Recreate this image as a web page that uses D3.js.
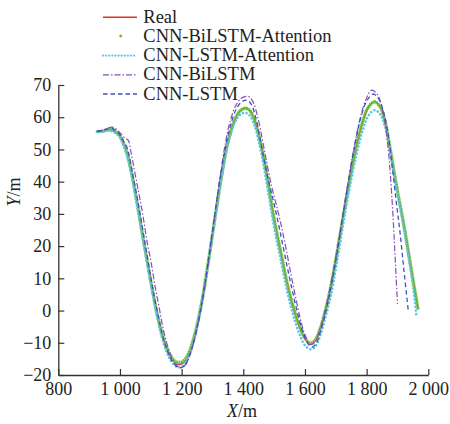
<!DOCTYPE html>
<html>
<head>
<meta charset="utf-8">
<script src="https://cdn.jsdelivr.net/npm/d3@7"></script>
<style>
  body { margin: 0; background: #fff; }
  text { font-family: "Liberation Serif", "Times New Roman", serif; fill: #222; }
</style>
</head>
<body>
<script>
// series names, in legend order
var seriesNames = ["Real", "CNN-BiLSTM-Attention", "CNN-LSTM-Attention", "CNN-BiLSTM", "CNN-LSTM"];

var xTicks = [800, 1000, 1200, 1400, 1600, 1800, 2000];
var yTicks = [-20, -10, 0, 10, 20, 30, 40, 50, 60, 70];

// [X, Y]
var real = [[925,55.5],[945,55.7],[960,56.1],[975,56],[990,55.2],[1000,54.2],[1010,52.3],[1022,49.2],[1035,44],[1048,37.5],[1060,31],[1075,22.5],[1090,14.5],[1105,6.5],[1120,-0.8],[1135,-7],[1150,-11.5],[1165,-14.6],[1180,-16.3],[1195,-16.7],[1210,-15.8],[1225,-13],[1240,-8.5],[1255,-2.5],[1270,5],[1285,14],[1300,23.5],[1315,33],[1330,42],[1345,50],[1360,55.8],[1375,59.8],[1390,62],[1405,62.8],[1420,62.2],[1435,59.5],[1450,54.5],[1465,48],[1480,40],[1495,31],[1510,23.5],[1525,16.5],[1540,9.5],[1555,3.5],[1570,-1.5],[1585,-5.8],[1600,-8.8],[1616,-10.4],[1632,-9.5],[1650,-5.5],[1665,-0.5],[1680,5.5],[1700,15.7],[1720,27],[1742,38.9],[1763,49.3],[1784,57.6],[1805,63],[1826,64.8],[1845,63],[1860,58.5],[1875,51],[1890,42.5],[1905,34.5],[1920,27],[1935,18.5],[1950,9.8],[1967,0.3]];

var bilstmAtt = [[925,55.5],[945,55.7],[960,56.1],[975,56],[990,55.2],[1000,54.2],[1010,52.3],[1022,49.2],[1035,44],[1048,37.5],[1060,31],[1075,22.5],[1090,14.5],[1105,6.5],[1120,-0.8],[1135,-6.8],[1150,-11.2],[1165,-14.2],[1180,-15.8],[1195,-16.1],[1210,-15.3],[1225,-12.7],[1240,-8.3],[1255,-2.3],[1270,5.2],[1285,14.2],[1300,23.6],[1315,33],[1330,42],[1345,50],[1360,55.8],[1375,59.8],[1390,62],[1405,62.8],[1420,62.2],[1435,59.5],[1450,54.5],[1465,48],[1480,40],[1495,31],[1510,23.5],[1525,16.5],[1540,9.5],[1555,3.5],[1570,-1.3],[1585,-5.5],[1600,-8.5],[1616,-10.1],[1632,-9.3],[1650,-5.4],[1665,-0.4],[1680,5.6],[1700,15.8],[1720,27],[1742,38.9],[1763,49.3],[1784,57.6],[1805,63],[1826,64.8],[1845,63],[1860,58.5],[1875,51],[1890,42.5],[1905,34.5],[1920,27],[1935,18.5],[1950,9.8],[1967,0.3]];

var lstmAtt = [[925,55.5],[945,55.6],[960,55.9],[975,55.6],[990,54.7],[1000,53.6],[1010,51.5],[1022,48.2],[1035,43],[1048,36.5],[1060,30],[1075,21.5],[1090,13.5],[1105,5.5],[1120,-1.8],[1135,-8],[1150,-12.5],[1165,-15.6],[1180,-17.2],[1193,-17.6],[1208,-16.8],[1225,-13.8],[1240,-9.2],[1255,-3],[1270,4.5],[1285,13.5],[1300,23],[1315,32.5],[1330,41.5],[1345,49.3],[1360,55],[1375,58.8],[1390,60.8],[1405,61.4],[1420,60.6],[1435,57.8],[1450,52.5],[1465,45.5],[1480,37],[1495,28.5],[1510,21],[1525,14],[1540,7],[1555,1],[1570,-4],[1585,-8],[1600,-10.8],[1618,-12],[1635,-11],[1652,-7],[1668,-1.5],[1684,4.5],[1703,14.5],[1722,25.5],[1744,37.5],[1765,47.5],[1786,55.5],[1806,60.5],[1826,62.2],[1845,60.8],[1860,57],[1875,50],[1890,41.8],[1905,34],[1920,25.8],[1935,17],[1950,7.8],[1962,-2.1]];

var bilstm = [[925,55.6],[945,56],[960,56.6],[975,56.9],[990,56.2],[1002,55],[1015,53.6],[1027,52.8],[1035,49.5],[1043,45.5],[1055,39.5],[1065,34.5],[1077,28],[1088,21.3],[1100,15.5],[1113,8],[1127,1],[1142,-6.5],[1158,-12],[1175,-15.8],[1195,-17.7],[1212,-16.9],[1228,-13.5],[1243,-8.5],[1258,-2],[1272,5.5],[1287,15],[1300,24],[1313,33.5],[1327,43],[1342,52],[1358,59],[1375,63.5],[1392,65.8],[1408,66.5],[1421,66.2],[1433,64.5],[1447,60],[1462,53],[1477,45.5],[1492,38.5],[1508,32.5],[1524,26],[1540,18.5],[1555,11],[1570,4],[1585,-2.5],[1600,-7.5],[1618,-10.6],[1634,-9.5],[1650,-5.5],[1665,0],[1680,6.5],[1700,16.5],[1720,28],[1740,40],[1760,51],[1780,60],[1798,65.5],[1816,68.4],[1835,67],[1850,63],[1863,56],[1873,47],[1881,36.5],[1888,25],[1894,13.5],[1900,2]];

var lstm = [[925,55.6],[945,55.9],[960,56.4],[975,56.5],[990,55.6],[1002,54.3],[1013,52.3],[1022,50.8],[1030,48],[1042,42],[1055,35.5],[1068,28.5],[1082,20.5],[1096,12.5],[1110,5],[1125,-2],[1140,-8.3],[1156,-13],[1173,-16.2],[1193,-17.8],[1210,-17],[1226,-13.8],[1241,-9],[1256,-2.5],[1270,5],[1285,14.5],[1299,24],[1313,33.5],[1328,43],[1344,51.5],[1360,58],[1377,62.5],[1395,64.8],[1412,65.3],[1426,64],[1440,60],[1455,53],[1470,45.5],[1485,39],[1500,33],[1516,26],[1532,18.5],[1548,11],[1563,4.5],[1578,-1.5],[1593,-6.5],[1608,-10],[1622,-11.4],[1637,-10],[1652,-6],[1667,-0.5],[1682,6],[1700,15.5],[1720,27.5],[1740,39.5],[1760,50.5],[1780,59.5],[1800,65],[1821,67.2],[1840,65.5],[1858,60.5],[1872,53],[1885,43],[1897,33],[1908,24.5],[1921,12.5],[1935,0]];

var allSeries = [real, bilstmAtt, lstmAtt, bilstm, lstm];

var styles = [
  { color: "#e8302a", width: 1.6, dash: null, cap: "butt" },
  { color: "#66c43c", width: 3.3, dash: "2,0.5", cap: "butt" },
  { color: "#5cc6e2", width: 2.6, dash: "0.1,3.6", cap: "round" },
  { color: "#8a4db6", width: 1.2, dash: "6,2,1.5,2", cap: "butt" },
  { color: "#3d4fc2", width: 1.3, dash: "4.5,3", cap: "butt" }
];

var width = 450, height = 424;
var margin = { left: 58.3, top: 85, right: 21.7, bottom: 49 };

var svg = d3.select("body").append("svg")
  .attr("width", width)
  .attr("height", height);

var x = d3.scaleLinear().domain([800, 2000]).range([margin.left, width - margin.right]);
var y = d3.scaleLinear().domain([-20, 70]).range([height - margin.bottom, margin.top]);

var line = d3.line()
  .x(function (d) { return x(d[0]); })
  .y(function (d) { return y(d[1]); })
  .curve(d3.curveCatmullRom.alpha(0.5));

allSeries.forEach(function (s, i) {
  var st = styles[i];
  svg.append("path")
    .datum(s)
    .attr("fill", "none")
    .attr("stroke", st.color)
    .attr("stroke-width", st.width)
    .attr("stroke-dasharray", st.dash)
    .attr("stroke-linecap", st.cap)
    .attr("d", line);
});

// axes
var xAxis = svg.append("g")
  .attr("transform", "translate(0," + y(-20) + ")")
  .call(d3.axisBottom(x).tickValues(xTicks).tickSizeInner(-6).tickSizeOuter(0)
    .tickFormat(function (d) { return d >= 1000 ? String(d).replace(/(\d)(\d{3})$/, "$1 $2") : d; }));
xAxis.select(".domain").attr("stroke", "#333").attr("stroke-width", 1.3);
xAxis.selectAll(".tick line").attr("stroke", "#333").attr("stroke-width", 1.2);
xAxis.selectAll("text").attr("font-size", 18).attr("dy", "0.75em").attr("y", 6)
  .attr("font-family", "Liberation Serif").attr("fill", "#222");

var yAxis = svg.append("g")
  .attr("transform", "translate(" + x(800) + ",0)")
  .call(d3.axisLeft(y).tickValues(yTicks).tickSizeInner(-6).tickSizeOuter(0)
    .tickFormat(function (d) { return d < 0 ? "\u2212" + Math.abs(d) : d; }));
yAxis.select(".domain").attr("stroke", "#333").attr("stroke-width", 1.3);
yAxis.selectAll(".tick line").attr("stroke", "#333").attr("stroke-width", 1.2);
yAxis.selectAll("text").attr("font-size", 18).attr("x", -7)
  .attr("font-family", "Liberation Serif").attr("fill", "#222");

// axis titles
var xt = svg.append("text")
  .attr("x", 242).attr("y", 417)
  .attr("text-anchor", "middle")
  .attr("font-size", 18);
xt.append("tspan").attr("font-style", "italic").text("X");
xt.append("tspan").text("/m");

var yt = svg.append("text")
  .attr("transform", "translate(20,192) rotate(-90)")
  .attr("text-anchor", "middle")
  .attr("font-size", 18);
yt.append("tspan").attr("font-style", "italic").text("Y");
yt.append("tspan").text("/m");

// legend
var legend = svg.append("g");
seriesNames.forEach(function (name, i) {
  var st = styles[i];
  var by = 22.7 + i * 19.2;
  if (i === 1) {
    legend.append("circle")
      .attr("cx", 120.7).attr("cy", by - 6)
      .attr("r", 1.5).attr("fill", st.color);
  } else {
    legend.append("line")
      .attr("x1", 103).attr("x2", 137)
      .attr("y1", by - 5.5).attr("y2", by - 5.5)
      .attr("stroke", st.color)
      .attr("stroke-width", i === 2 ? 2.2 : st.width)
      .attr("stroke-dasharray", i === 2 ? "0.1,3" : st.dash)
      .attr("stroke-linecap", st.cap);
  }
  legend.append("text")
    .attr("x", 143.3).attr("y", by)
    .attr("font-size", 18.5)
    .text(name);
});
</script>
</body>
</html>
